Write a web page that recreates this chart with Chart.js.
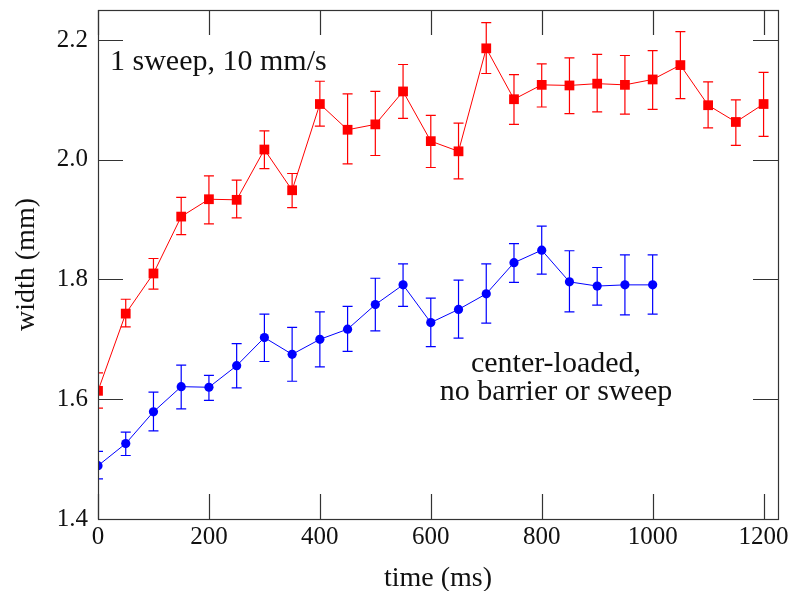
<!DOCTYPE html>
<html>
<head>
<meta charset="utf-8">
<script src="https://cdn.jsdelivr.net/npm/chart.js@4.4.1/dist/chart.umd.min.js"></script>
<style>
  html, body { margin: 0; padding: 0; background: #fff; }
  #wrap { width: 794px; height: 591px; }
</style>
</head>
<body>
<div id="wrap"><canvas id="widthChart" width="794" height="591"></canvas></div>
<script>
// time axis (ms)
const times = [0, 50, 100, 150, 200, 250, 300, 350, 400, 450, 500, 550, 600,
               650, 700, 750, 800, 850, 900, 950, 1000, 1050, 1100, 1150, 1200];

// 1 sweep, 10 mm/s
const sweepWidth = [1.614, 1.743, 1.810, 1.905, 1.934, 1.933, 2.017, 1.949, 2.093, 2.050, 2.059, 2.114, 2.031,
                    2.014, 2.186, 2.101, 2.125, 2.124, 2.127, 2.125, 2.134, 2.158, 2.091, 2.063, 2.093];
const sweepLow  = [1.585, 1.721, 1.784, 1.875, 1.893, 1.903, 1.985, 1.920, 2.056, 1.993, 2.007, 2.069, 1.987,
                   1.968, 2.144, 2.059, 2.088, 2.077, 2.080, 2.076, 2.084, 2.102, 2.053, 2.024, 2.039];
const sweepHigh = [1.644, 1.767, 1.835, 1.937, 1.973, 1.966, 2.048, 1.977, 2.131, 2.110, 2.114, 2.159, 2.074,
                   2.061, 2.229, 2.142, 2.160, 2.170, 2.176, 2.174, 2.182, 2.214, 2.130, 2.100, 2.146];

// center-loaded, no barrier or sweep (0..1000 ms)
const centerWidth = [1.489, 1.526, 1.579, 1.621, 1.620, 1.656, 1.703, 1.675, 1.700, 1.717, 1.758,
                     1.791, 1.728, 1.750, 1.776, 1.828, 1.849, 1.796, 1.789, 1.791, 1.791];
const centerLow  = [1.467, 1.506, 1.547, 1.584, 1.598, 1.619, 1.663, 1.630, 1.654, 1.680, 1.714,
                    1.755, 1.688, 1.702, 1.727, 1.795, 1.809, 1.746, 1.757, 1.741, 1.742];
const centerHigh = [1.513, 1.545, 1.612, 1.657, 1.640, 1.693, 1.742, 1.720, 1.746, 1.755, 1.802,
                    1.826, 1.769, 1.799, 1.826, 1.860, 1.889, 1.848, 1.820, 1.841, 1.841];

// tick labels
const xTicks = [0, 200, 400, 600, 800, 1000, 1200];
const yTicks = [1.4, 1.6, 1.8, 2.0, 2.2];

const FONT = "'Liberation Serif', 'Times New Roman', serif";

function toPoints(xs, ys, lo, hi) {
    return ys.map((y, i) => ({ x: xs[i], y: y, lo: lo[i], hi: hi[i] }));
}

// error bars, frame and inward ticks
const errorBars = {
    id: 'errorBars',
    beforeDatasetsDraw(chart) {
        const { ctx, chartArea, scales } = chart;
        ctx.save();
        ctx.beginPath();
        ctx.rect(chartArea.left, chartArea.top, chartArea.right - chartArea.left, chartArea.bottom - chartArea.top);
        ctx.clip();
        chart.data.datasets.forEach(ds => {
            ctx.strokeStyle = ds.borderColor;
            ctx.lineWidth = 1.2;
            ds.data.forEach(p => {
                const x = scales.x.getPixelForValue(p.x);
                const yl = scales.y.getPixelForValue(p.lo);
                const yh = scales.y.getPixelForValue(p.hi);
                ctx.beginPath();
                ctx.moveTo(x, yl); ctx.lineTo(x, yh);
                ctx.moveTo(x - 5, yl); ctx.lineTo(x + 5, yl);
                ctx.moveTo(x - 5, yh); ctx.lineTo(x + 5, yh);
                ctx.stroke();
            });
        });
        ctx.restore();
    },
    afterDraw(chart) {
        const { ctx, chartArea: a, scales } = chart;
        const len = 25;
        ctx.save();
        ctx.strokeStyle = '#333';
        ctx.lineWidth = 1.2;
        ctx.beginPath();
        xTicks.forEach(v => {
            const x = Math.round(scales.x.getPixelForValue(v)) + 0.5;
            ctx.moveTo(x, a.bottom); ctx.lineTo(x, a.bottom - len);
            ctx.moveTo(x, a.top); ctx.lineTo(x, a.top + len);
        });
        yTicks.forEach(v => {
            const y = Math.round(scales.y.getPixelForValue(v)) + 0.5;
            ctx.moveTo(a.left, y); ctx.lineTo(a.left + len, y);
            ctx.moveTo(a.right, y); ctx.lineTo(a.right - len, y);
        });
        ctx.stroke();
        ctx.strokeRect(Math.round(a.left) + 0.5, Math.round(a.top) + 0.5,
                       Math.round(a.right - a.left), Math.round(a.bottom - a.top));

        // annotations
        ctx.fillStyle = '#111';
        ctx.font = '30px ' + FONT;
        ctx.textAlign = 'left';
        ctx.textBaseline = 'alphabetic';
        ctx.fillText('1 sweep, 10 mm/s', 110, 70);
        ctx.textAlign = 'center';
        ctx.fillText('center-loaded,', 556, 372);
        ctx.fillText('no barrier or sweep', 556, 400);
        ctx.restore();
    }
};

const ctx = document.getElementById('widthChart').getContext('2d');
new Chart(ctx, {
    type: 'line',
    data: {
        datasets: [
            {
                label: '1 sweep, 10 mm/s',
                data: toPoints(times, sweepWidth, sweepLow, sweepHigh),
                borderColor: '#ff0000',
                backgroundColor: '#ff0000',
                borderWidth: 1,
                pointStyle: 'rect',
                pointRadius: 6.9,
                pointBorderWidth: 0,
                clip: 0
            },
            {
                label: 'center-loaded, no barrier or sweep',
                data: toPoints(times, centerWidth, centerLow, centerHigh),
                borderColor: '#0000ff',
                backgroundColor: '#0000ff',
                borderWidth: 1,
                pointStyle: 'circle',
                pointRadius: 4.6,
                pointBorderWidth: 0,
                clip: 0
            }
        ]
    },
    options: {
        responsive: false,
        animation: false,
        devicePixelRatio: 1,
        layout: { padding: { top: 10, right: 16, left: 0, bottom: 0 } },
        plugins: {
            legend: { display: false },
            tooltip: { enabled: false }
        },
        scales: {
            x: {
                type: 'linear',
                min: 0,
                max: 1226,
                afterBuildTicks: s => { s.ticks = xTicks.map(v => ({ value: v })); },
                afterFit: s => { s.height = 72; s.paddingLeft = 0; s.paddingRight = 0; },
                grid: { display: false, drawTicks: false },
                border: { display: false },
                ticks: {
                    color: '#111',
                    font: { family: FONT, size: 25 },
                    padding: 3,
                    maxRotation: 0,
                    autoSkip: false,
                    callback: v => String(v)
                },
                title: {
                    display: true,
                    text: 'time (ms)',
                    color: '#111',
                    font: { family: FONT, size: 28, lineHeight: 0.8 },
                    padding: { top: 0, bottom: 1 }
                }
            },
            y: {
                type: 'linear',
                min: 1.4,
                max: 2.25,
                afterBuildTicks: s => { s.ticks = yTicks.map(v => ({ value: v })); },
                afterFit: s => { s.width = 98; s.paddingTop = 0; s.paddingBottom = 0; },
                grid: { display: false, drawTicks: false },
                border: { display: false },
                ticks: {
                    color: '#111',
                    font: { family: FONT, size: 25 },
                    padding: 10,
                    callback: v => v.toFixed(1)
                },
                title: {
                    display: true,
                    text: 'width (mm)',
                    color: '#111',
                    font: { family: FONT, size: 28, lineHeight: 1 },
                    padding: { top: 13, bottom: 0 }
                }
            }
        }
    },
    plugins: [errorBars]
});
</script>
</body>
</html>
